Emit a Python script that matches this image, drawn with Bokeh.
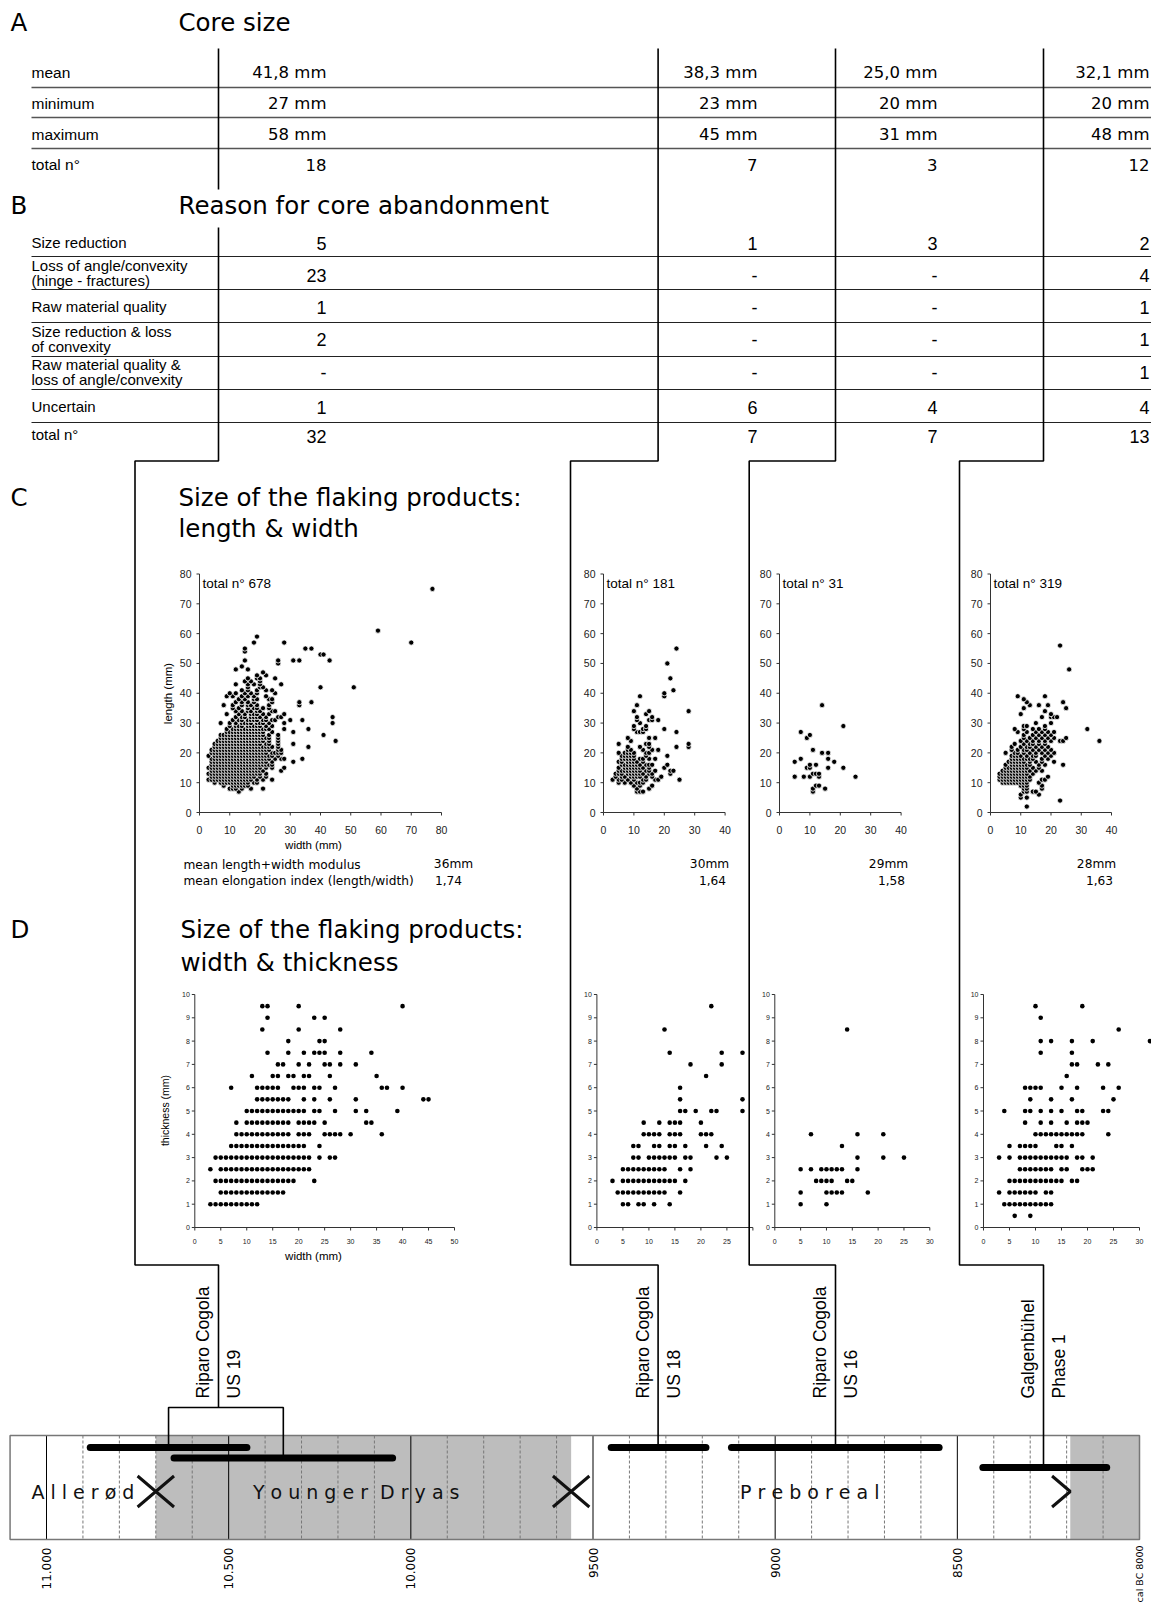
import math
from bokeh.plotting import figure
from bokeh.models import Range1d
from bokeh.embed import file_html
from bokeh.resources import INLINE
from bokeh.core.properties import value

# ---------------------------------------------------------------- data
SITES = ["Riparo Cogola", "Riparo Cogola", "Riparo Cogola", "Galgenbühel"]
UNITS = ["US 19", "US 18", "US 16", "Phase 1"]

CORE_ROWS = ["mean", "minimum", "maximum", "total n°"]
CORE_MEAN = ["41,8 mm", "38,3 mm", "25,0 mm", "32,1 mm"]
CORE_MIN = ["27 mm", "23 mm", "20 mm", "20 mm"]
CORE_MAX = ["58 mm", "45 mm", "31 mm", "48 mm"]
CORE_N = ["18", "7", "3", "12"]

REASONS = ["Size reduction",
           "Loss of angle/convexity\n(hinge - fractures)",
           "Raw material quality",
           "Size reduction & loss\nof convexity",
           "Raw material quality &\nloss of angle/convexity",
           "Uncertain",
           "total n°"]
ABANDON_US19 = ["5", "23", "1", "2", "-", "1", "32"]
ABANDON_US18 = ["1", "-", "-", "-", "-", "6", "7"]
ABANDON_US16 = ["3", "-", "-", "-", "-", "4", "7"]
ABANDON_GB = ["2", "4", "1", "1", "1", "4", "13"]

FLAKE_N = ["total n° 678", "total n° 181", "total n° 31", "total n° 319"]
MODULUS = ["36mm", "30mm", "29mm", "28mm"]
ELONGATION = ["1,74", "1,64", "1,58", "1,63"]

# length (mm) -> widths (mm)
LW_US19 = {
    7: [13], 8: [10, 11, 12, 14, 17, 21], 9: [8, 11, 12, 13, 14, 15, 16],
    10: [5, 7, 8, 9, 10, 11, 12, 13, 14, 15, 16, 18, 19],
    11: [3, 4, 5, 6, 7, 8, 9, 10, 11, 12, 13, 14, 15, 16, 17, 19, 21, 24],
    12: [4, 5, 6, 7, 8, 9, 10, 11, 12, 13, 14, 15, 16, 17, 18, 20, 22],
    13: [3, 4, 5, 6, 7, 8, 9, 10, 11, 12, 13, 14, 15, 16, 17, 18, 19, 20, 22],
    14: [4, 5, 6, 7, 8, 9, 10, 11, 12, 13, 14, 15, 16, 17, 18, 19, 20, 21, 27],
    15: [3, 4, 5, 6, 7, 8, 9, 10, 11, 12, 13, 14, 15, 16, 17, 18, 19, 20, 22, 24, 28],
    16: [4, 5, 6, 7, 8, 9, 10, 11, 12, 13, 14, 15, 16, 17, 18, 19, 20, 21, 22, 23, 24],
    17: [4, 5, 6, 7, 8, 9, 10, 11, 12, 13, 14, 15, 16, 17, 18, 19, 20, 21, 22, 24, 31],
    18: [4, 5, 6, 7, 8, 9, 10, 11, 12, 13, 14, 15, 16, 17, 18, 19, 20, 21, 22, 23, 25, 27, 28, 34],
    19: [3, 5, 6, 7, 8, 9, 10, 11, 12, 13, 14, 15, 16, 17, 18, 19, 20, 21, 22, 23, 24, 26],
    20: [4, 5, 6, 7, 8, 9, 10, 11, 12, 13, 14, 15, 16, 17, 18, 19, 20, 21, 22, 24, 25, 26, 27],
    21: [4, 5, 6, 7, 8, 9, 10, 11, 12, 13, 14, 15, 16, 17, 18, 19, 20, 21, 22, 23, 26, 27],
    22: [5, 6, 7, 8, 9, 10, 11, 12, 13, 14, 15, 16, 17, 18, 19, 20, 21, 22, 23, 24, 26, 36],
    23: [5, 6, 7, 8, 9, 10, 11, 12, 13, 14, 15, 16, 17, 18, 19, 20, 22, 23, 26, 31],
    24: [6, 7, 8, 9, 10, 11, 12, 13, 14, 15, 16, 17, 18, 19, 20, 21, 23, 26, 45],
    25: [7, 8, 9, 10, 11, 12, 13, 14, 15, 16, 17, 18, 19, 20, 21, 22, 23, 26],
    26: [7, 8, 9, 10, 11, 12, 13, 14, 15, 16, 17, 18, 19, 20, 21, 23, 26, 41],
    27: [9, 10, 11, 12, 13, 14, 15, 16, 17, 18, 19, 20, 21, 24, 31],
    28: [9, 11, 12, 13, 14, 15, 16, 17, 18, 19, 20, 21, 22, 23, 28, 36],
    29: [10, 12, 13, 14, 16, 17, 18, 19, 20, 22, 24],
    30: [7, 10, 12, 14, 15, 16, 17, 19, 20, 21, 23, 28, 44],
    31: [11, 13, 14, 16, 17, 18, 19, 21, 22, 24, 25, 30, 34],
    32: [12, 14, 15, 17, 18, 19, 20, 22, 26, 27, 44],
    33: [9, 13, 15, 17, 18, 19, 21, 23, 28],
    34: [12, 14, 16, 17, 19, 20, 24, 25],
    35: [11, 13, 16, 18, 19, 21, 23],
    36: [8, 11, 14, 16, 17, 19, 23, 33],
    37: [12, 14, 16, 18, 24, 33, 37],
    38: [13, 15, 18, 19, 23, 24],
    39: [9, 11, 14, 16, 18, 22],
    40: [10, 12, 15, 17, 19, 25],
    41: [14, 16, 19, 22, 24],
    42: [16, 20, 21, 40, 51],
    43: [12, 16, 18, 20, 27],
    44: [15, 17, 20],
    45: [16, 19, 20, 25],
    46: [19, 22], 47: [21], 48: [12, 16], 49: [14], 50: [26],
    51: [15, 26, 31, 33, 43], 53: [40, 41], 54: [15], 55: [15, 35, 37],
    57: [18, 28, 70], 59: [19], 61: [59], 75: [77],
}
LW_US18 = {
    7: [11, 12, 13], 8: [11, 15], 9: [10, 12, 16],
    10: [5, 7, 9, 11, 12, 13],
    11: [3, 5, 6, 8, 10, 13, 14, 17, 18, 25],
    12: [4, 6, 7, 9, 10, 11, 12, 14, 16, 19],
    13: [4, 5, 6, 8, 9, 10, 11, 12, 13, 15, 16, 22],
    14: [5, 6, 7, 8, 9, 10, 11, 12, 14, 15, 17, 22, 23],
    15: [5, 7, 8, 9, 10, 11, 12, 13, 15, 20],
    16: [6, 7, 8, 9, 10, 11, 12, 14, 15, 16, 21],
    17: [5, 6, 8, 9, 10, 11, 13],
    18: [6, 7, 8, 9, 10, 12, 13, 15, 17],
    19: [6, 7, 8, 9, 10, 14, 21],
    20: [5, 7, 8, 9, 10, 14, 15],
    21: [8, 9, 13, 16, 18],
    22: [8, 12, 15, 24, 28],
    23: [5, 14, 15, 28],
    24: [9], 25: [8, 15, 17], 27: [11, 12, 13, 24], 28: [10, 13, 14, 20],
    29: [10, 14], 30: [12], 31: [11, 15, 16, 18], 32: [11, 16], 33: [14],
    34: [10, 15, 28], 36: [11], 39: [12, 20], 40: [20], 41: [23], 45: [22],
    50: [21], 55: [24],
}
LW_US16 = {
    7: [11], 8: [11, 15], 9: [12, 13], 12: [5, 8, 10, 13, 25], 13: [11, 12, 13],
    15: [9, 10, 16, 21], 16: [10, 12], 17: [5, 18], 18: [7, 16], 20: [14, 16],
    21: [11], 25: [9], 26: [10], 27: [7], 29: [21], 36: [14],
}
LW_GB = {
    2: [12], 4: [23], 5: [10, 12], 6: [10, 16], 7: [11, 12, 14, 15], 8: [11, 12, 17],
    9: [10, 11, 12, 17],
    10: [4, 5, 6, 7, 8, 9, 10, 11, 12, 16],
    11: [3, 4, 5, 6, 7, 8, 9, 10, 11, 12, 13, 17, 18],
    12: [3, 4, 5, 6, 7, 8, 9, 10, 11, 12, 13, 19],
    13: [3, 4, 5, 6, 7, 8, 9, 10, 11, 12, 14],
    14: [4, 5, 6, 7, 8, 9, 10, 11, 12, 13, 15, 17],
    15: [5, 6, 7, 8, 9, 10, 11, 12, 14, 16],
    16: [5, 7, 8, 9, 10, 11, 12, 13, 16, 18, 24],
    17: [6, 7, 8, 9, 10, 11, 13, 15, 17, 21],
    18: [7, 8, 9, 10, 11, 12, 13, 14, 17, 19],
    19: [7, 8, 9, 10, 12, 14, 15, 18, 20],
    20: [5, 8, 9, 11, 13, 15, 17, 19, 21],
    21: [7, 9, 11, 12, 14, 16, 18, 20],
    22: [7, 10, 12, 13, 15, 17, 19],
    23: [8, 11, 13, 14, 16, 18],
    24: [10, 12, 14, 16, 18, 20, 23, 24, 36],
    25: [11, 13, 15, 17, 19, 21, 25],
    26: [11, 14, 16, 18, 20],
    27: [9, 12, 15, 17, 19, 21],
    28: [8, 11, 14, 16, 18, 32],
    29: [11, 12, 18], 30: [15, 20], 32: [17, 20, 21, 22], 33: [10, 20], 34: [18],
    35: [11, 25], 36: [13, 16, 19], 37: [12, 24], 38: [11], 39: [9, 18],
    48: [26], 56: [23],
}

# thickness (mm) -> widths (mm)
TW_US19 = {
    1.0: [3, 4, 5, 6, 7, 8, 9, 10, 11, 12],
    1.5: [5, 6, 7, 8, 9, 10, 11, 12, 13, 14, 15, 16, 17],
    2.0: [4, 5, 6, 7, 8, 9, 10, 11, 12, 13, 14, 15, 16, 17, 18, 19, 23],
    2.5: [3, 5, 6, 7, 8, 9, 10, 11, 12, 13, 14, 15, 16, 17, 18, 19, 20, 21, 22],
    3.0: [4, 5, 6, 7, 8, 9, 10, 11, 12, 13, 14, 15, 16, 17, 18, 19, 20, 21, 22, 24, 26, 27],
    3.5: [7, 8, 9, 10, 11, 12, 13, 14, 15, 16, 17, 18, 19, 20, 21, 24],
    4.0: [8, 9, 10, 11, 12, 13, 14, 15, 16, 17, 18, 20, 21, 22, 25, 26, 27, 28, 30, 36],
    4.5: [8, 10, 11, 12, 13, 14, 15, 16, 17, 18, 20, 21, 22, 23, 25, 33, 34],
    5.0: [10, 11, 12, 13, 14, 15, 16, 17, 18, 19, 20, 21, 23, 24, 27, 31, 33, 39],
    5.5: [12, 13, 14, 15, 16, 17, 18, 21, 23, 26, 31, 44, 45],
    6.0: [7, 12, 13, 14, 15, 16, 19, 20, 21, 23, 24, 27, 36, 37, 40],
    6.5: [11, 15, 16, 18, 19, 21, 22, 26, 35],
    7.0: [16, 17, 20, 22, 25, 26, 28, 31],
    7.5: [14, 18, 21, 23, 24, 25, 28, 34],
    8.0: [18, 24, 25], 8.5: [13, 20, 28], 9.0: [14, 23, 25], 9.5: [13, 14, 20, 40],
}
TW_US18 = {
    1.0: [5, 6, 8, 9, 11, 14],
    1.5: [4, 5, 6, 7, 8, 9, 10, 11, 12, 13, 16],
    2.0: [3, 5, 6, 7, 8, 9, 10, 11, 12, 13, 14, 15, 17],
    2.5: [5, 6, 7, 8, 9, 10, 11, 12, 13, 16, 18],
    3.0: [7, 8, 10, 11, 12, 13, 14, 15, 17, 18, 23, 25],
    3.5: [7, 8, 11, 12, 14, 15, 17, 21, 24],
    4.0: [9, 10, 11, 12, 14, 15, 16, 20, 21, 22],
    4.5: [9, 12, 14, 15, 16, 20],
    5.0: [16, 17, 19, 22, 23, 28],
    5.5: [16, 28], 6.0: [16], 6.5: [21], 7.0: [18, 24], 7.5: [14, 24, 28],
    8.5: [13], 9.5: [22],
}
TW_US16 = {
    1.0: [5, 10], 1.5: [5, 10, 11, 12, 13, 18], 2.0: [8, 9, 10, 11, 14, 15],
    2.5: [5, 7, 9, 10, 11, 12, 13, 16], 3.0: [16, 21, 25], 3.5: [13],
    4.0: [7, 16, 21], 8.5: [14],
}
TW_GB = {
    0.5: [6, 9],
    1.0: [4, 5, 6, 7, 8, 9, 10, 11, 12, 13],
    1.5: [3, 5, 6, 7, 8, 9, 10, 12, 13],
    2.0: [5, 6, 7, 8, 9, 10, 11, 12, 13, 14, 15, 17, 18],
    2.5: [7, 8, 9, 10, 11, 12, 13, 15, 16, 19, 20, 21],
    3.0: [3, 5, 7, 8, 9, 10, 11, 12, 13, 14, 15, 16, 18, 19, 21],
    3.5: [5, 7, 8, 9, 10, 14, 15, 17],
    4.0: [10, 11, 12, 13, 14, 15, 16, 17, 18, 19, 24],
    4.5: [8, 11, 13, 16, 18, 19, 20],
    5.0: [4, 8, 9, 11, 13, 15, 18, 19, 23, 24],
    5.5: [9, 13, 17, 25],
    6.0: [8, 9, 10, 11, 15, 18, 23, 26],
    6.5: [16], 7.0: [17, 18, 22, 24], 7.5: [11, 17], 8.0: [11, 13, 17, 21, 32],
    8.5: [26], 9.0: [11], 9.5: [10, 19],
}

# chronology (cal BC)
PERIODS = ["Allerød", "Younger Dryas", "Preboreal"]
PERIOD_LABEL_YEAR = [10900, 10150, 8905]
COLD_START = [10700, 8190]
COLD_END = [9560, 8000]
BOUNDARY_X = [10700, 9560]
BOUNDARY_END = [8190]
TIMELINE_START, TIMELINE_END = 11100, 8000
DATE_START = [10880, 10650, 9450, 9120, 8430]
DATE_END = [10450, 10050, 9190, 8550, 8090]
YEAR_TICKS = [11000, 10500, 10000, 9500, 9000, 8500, 8000]
YEAR_LABELS = ["11.000", "10.500", "10.000", "9500", "9000", "8500", "cal BC 8000"]

# ---------------------------------------------------------------- layout / style
SANS = value("Liberation Sans")
HEAD = value("DejaVu Sans")

FW, FH = 1151, 1606
p = figure(width=FW, height=FH, x_range=Range1d(0, FW), y_range=Range1d(FH, 0),
           x_axis_type=None, y_axis_type=None, toolbar_location=None,
           output_backend="svg", min_border=0, outline_line_color=None,
           background_fill_color="white", border_fill_color="white")


def label(t, xs, ys, texts, size, font=SANS, align="left", baseline="middle",
          angle=0.0, lh=1.2, color="black"):
    t.text(x=list(xs), y=list(ys), text=list(texts), text_font=font,
           text_font_size=f"{size}px", text_align=align, text_baseline=baseline,
           angle=angle, text_color=color, text_line_height=lh)


def flatten(rows):
    xs, ys = [], []
    for yv, xl in rows.items():
        for xv in xl:
            xs.append(xv)
            ys.append(yv)
    return xs, ys


def spaced(name):
    return "\u00a0\u00a0".join(" ".join(w) for w in name.split(" "))


COL_R = [326, 757, 937, 1149]
XT = [218, 657.6, 835, 1043]
XL = [134.5, 570, 748.7, 959]

# ---------------------------------------------------------------- A: core size
label(p, [10, 178], [22, 22], ["A", "Core size"], 24.5, HEAD)
A_Y = [72, 103, 134, 164]
label(p, [31] * 4, A_Y, CORE_ROWS, 15.5)
for c in range(4):
    label(p, [COL_R[c]] * 4, A_Y, [CORE_MEAN[c], CORE_MIN[c], CORE_MAX[c], CORE_N[c]],
          16.5, HEAD, align="right")
sepA = [87, 117, 148]
p.segment(x0=[31] * 3, y0=sepA, x1=[FW] * 3, y1=sepA, line_color="#555", line_width=1.5)

# ---------------------------------------------------------------- B: abandonment
label(p, [10, 178], [205, 205], ["B", "Reason for core abandonment"], 24.5, HEAD)
B_LY = [242, 272.5, 305.5, 338.5, 371.5, 406, 434]
B_VY = [243, 275, 307, 339, 372, 407, 436]
label(p, [31] * 7, B_LY, REASONS, 15, lh=0.88)
for c, col in enumerate([ABANDON_US19, ABANDON_US18, ABANDON_US16, ABANDON_GB]):
    label(p, [COL_R[c]] * 7, B_VY, col, 18, align="right")
sepB = [256, 289, 322, 356, 389, 422]
p.segment(x0=[31] * 6, y0=sepB, x1=[FW] * 6, y1=sepB, line_color="#222", line_width=1.2)

# ---------------------------------------------------------------- C / D headings
label(p, [10, 178, 178], [497, 497, 528], ["C", "Size of the flaking products:", "length & width"], 24.5, HEAD)
label(p, [10, 180, 180], [929, 929, 962], ["D", "Size of the flaking products:", "width & thickness"], 24.5, HEAD)


def panel(xpx, ypx, xmax, ymax, xstep, ystep, rows, msize, outline, font_px, xdy, ydx, tick=3.0):
    sub = p.subplot(x_source=Range1d(0, xmax), y_source=Range1d(0, ymax),
                    x_target=Range1d(xpx[0], xpx[1]), y_target=Range1d(ypx[0], ypx[1]))
    kx = (xpx[1] - xpx[0]) / xmax
    ky = (ypx[0] - ypx[1]) / ymax
    xt = list(range(0, xmax + 1, xstep))
    yt = list(range(0, ymax + 1, ystep))
    sub.segment(x0=[0, 0], y0=[0, 0], x1=[xmax, 0], y1=[0, ymax], line_color="#333", line_width=1)
    sub.segment(x0=xt, y0=[0] * len(xt), x1=xt, y1=[-tick / ky] * len(xt), line_color="#333", line_width=1)
    sub.segment(x0=[0] * len(yt), y0=yt, x1=[-tick / kx] * len(yt), y1=yt, line_color="#333", line_width=1)
    sub.text(x=xt, y=[0] * len(xt), text=[str(v) for v in xt], y_offset=xdy,
             text_align="center", text_baseline="middle", text_font=SANS,
             text_font_size=f"{font_px}px", text_color="#222")
    sub.text(x=[0] * len(yt), y=yt, text=[str(v) for v in yt], x_offset=-ydx,
             text_align="right", text_baseline="middle", text_font=SANS,
             text_font_size=f"{font_px}px", text_color="#222")
    xs, ys = flatten(rows)
    if outline:
        sub.scatter(x=xs, y=ys, size=msize, fill_color="black", line_color="white", line_width=0.8)
    else:
        sub.scatter(x=xs, y=ys, size=msize, fill_color="black", line_color=None)
    return sub


# ---------------------------------------------------------------- C panels
C_X = [(199, 441), (603, 724.6), (779, 900.6), (990, 1111)]
C_XMAX = [80, 40, 40, 40]
C_Y = (812, 573.5)
for i, rows in enumerate([LW_US19, LW_US18, LW_US16, LW_GB]):
    sub = panel(C_X[i], C_Y, C_XMAX[i], 80, 10, 10, rows, 5.2, True, 10.5, 17, 8)
    sub.text(x=[0], y=[80], text=[FLAKE_N[i]], x_offset=3, y_offset=9, text_align="left",
             text_baseline="middle", text_font=SANS, text_font_size="13.5px")
label(p, [313], [844], ["width (mm)"], 11.5, align="center")
label(p, [167], [693], ["length (mm)"], 11.5, align="center", angle=math.pi / 2)
label(p, [183, 183], [864, 880], ["mean length+width modulus", "mean elongation index (length/width)"], 12.2, HEAD)
label(p, [453, 709, 888, 1096], [863] * 4, MODULUS, 12.2, HEAD, align="center")
label(p, [448, 712, 891, 1099], [880] * 4, ELONGATION, 12.2, HEAD, align="center")

# ---------------------------------------------------------------- D panels
D_X = [(194.3, 454), (596.4, 752.4), (774.3, 929.3), (983, 1139)]
D_XMAX = [50, 30, 30, 30]
D_Y = (1227, 994)
for i, rows in enumerate([TW_US19, TW_US18, TW_US16, TW_GB]):
    panel(D_X[i], D_Y, D_XMAX[i], 10, 5, 1, rows, 4.6, False, 7, 13.5, 5)
    if i == 1:
        p.quad(left=[749.5], right=[772], top=[1232], bottom=[1250], fill_color="white", line_color=None)
label(p, [313], [1255], ["width (mm)"], 11.5, align="center")
label(p, [164], [1110], ["thickness (mm)"], 10.5, align="center", angle=math.pi / 2)

# ---------------------------------------------------------------- timeline
tl = p.subplot(x_source=Range1d(11000, 8000), y_source=Range1d(0, 1),
               x_target=Range1d(46, 1139), y_target=Range1d(0, 1))
BT, BB = 1435, 1539
tl.quad(left=COLD_START, right=COLD_END, top=[BT] * 2, bottom=[BB] * 2, fill_color="#bdbdbd", line_color=None)
minor = [y for y in range(11000, 8000, -100) if y % 500 != 0]
tl.segment(x0=minor, y0=[BT] * len(minor), x1=minor, y1=[BB] * len(minor),
           line_color="#777", line_width=1, line_dash="3 2")
major = YEAR_TICKS[:-1]
tl.segment(x0=major, y0=[BT] * len(major), x1=major, y1=[BB] * len(major), line_color="black", line_width=1)
tl.quad(left=[TIMELINE_START], right=[TIMELINE_END], top=[BT], bottom=[BB],
        fill_color=None, line_color="#777", line_width=1.5)
BAR_Y = [1447, 1457.5, 1447, 1447, 1467]
tl.segment(x0=DATE_START, y0=BAR_Y, x1=DATE_END, y1=BAR_Y, line_color="black",
           line_width=7, line_cap="round")
# chevrons at period boundaries
chx, chy = [], []
for b in BOUNDARY_X:
    chx += [[b + 50, b, b + 50], [b - 50, b, b - 50]]
    chy += [[1475.5, 1491, 1506.5]] * 2
for b in BOUNDARY_END:
    chx.append([b + 50, b, b + 50])
    chy.append([1475.5, 1491, 1506.5])
tl.multi_line(xs=chx, ys=chy, line_color="#111", line_width=3)
# period names (letter-spaced)
tl.text(x=PERIOD_LABEL_YEAR, y=[1491] * 3, text=[spaced(n) for n in PERIODS], text_align="center",
        text_baseline="middle", text_font=HEAD, text_font_size="19px", text_color="#111")
# year labels
tl.text(x=YEAR_TICKS[:-1], y=[1547] * (len(YEAR_TICKS) - 1), text=YEAR_LABELS[:-1], angle=math.pi / 2,
        text_align="right", text_baseline="middle", text_font=HEAD, text_font_size="12px")
tl.text(x=YEAR_TICKS[-1:], y=[1545], text=YEAR_LABELS[-1:], angle=math.pi / 2,
        text_align="right", text_baseline="middle", text_font=HEAD, text_font_size="9.5px")
# bracket joining the two US 19 dates
ma = (DATE_START[0] + DATE_END[0]) / 2
mb = (DATE_START[1] + DATE_END[1]) / 2
tl.multi_line(xs=[[ma, ma, mb, mb]], ys=[[BAR_Y[0], 1407, 1407, BAR_Y[1]]], line_color="black", line_width=1.6)

# ---------------------------------------------------------------- connectors
Y_BOT = [1407, BAR_Y[2], BAR_Y[3], BAR_Y[4]]
cx, cy = [[XT[0], XT[0]]], [[48, 189]]
cx.append([XT[0], XT[0], XL[0], XL[0], XT[0], XT[0]])
cy.append([227, 460.5, 460.5, 1264.5, 1264.5, Y_BOT[0]])
for i in range(1, 4):
    cx.append([XT[i], XT[i], XL[i], XL[i], XT[i], XT[i]])
    cy.append([48, 460.5, 460.5, 1264.5, 1264.5, Y_BOT[i]])
p.multi_line(xs=cx, ys=cy, line_color="black", line_width=1.6)

label(p, [x - 15.5 for x in XT], [1398] * 4, SITES, 17.5, angle=math.pi / 2)
label(p, [x + 15.5 for x in XT], [1398] * 4, UNITS, 17.5, angle=math.pi / 2)

open("out.html", "w").write(file_html(p, INLINE))
